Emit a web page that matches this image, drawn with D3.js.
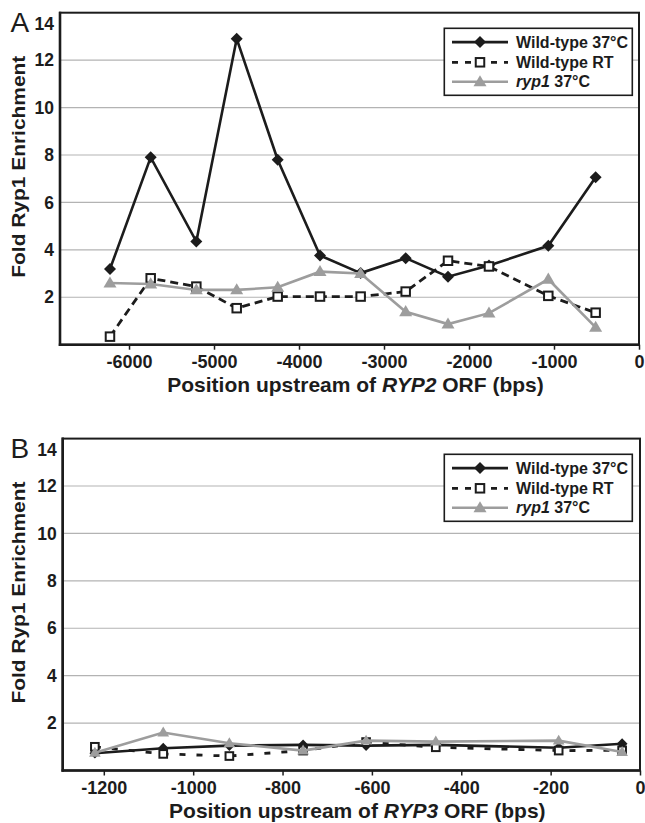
<!DOCTYPE html>
<html>
<head>
<meta charset="utf-8">
<script src="https://cdn.jsdelivr.net/npm/d3@7"></script>
<style>
  html, body { margin: 0; padding: 0; background: #fff; }
  svg { display: block; }
  text { font-family: "Liberation Sans", Arial, Helvetica, sans-serif; }
</style>
</head>
<body>
<script>
// ---------- data ----------
const seriesNames = ["Wild-type 37°C", "Wild-type RT", "ryp1 37°C"];
const yTicks = [2, 4, 6, 8, 10, 12, 14];

// Panel A: RYP2 upstream
const posA = [-6224, -5745, -5208, -4733, -4251, -3753, -3275, -2745, -2247, -1765, -1067, -510];
const wt37A = [3.19, 7.9, 4.35, 12.9, 7.8, 3.76, 3.02, 3.65, 2.87, 3.34, 4.17, 7.06];
const wtRTA = [0.34, 2.8, 2.45, 1.54, 2.03, 2.03, 2.03, 2.24, 3.54, 3.3, 2.06, 1.35];
const ryp1A = [2.6, 2.56, 2.31, 2.31, 2.42, 3.08, 3.0, 1.39, 0.87, 1.33, 2.76, 0.73];
const xTicksA = [-6000, -5000, -4000, -3000, -2000, -1000, 0];

// Panel B: RYP3 upstream
const posB = [-1220, -1067, -919, -754, -613, -457, -182, -40];
const wt37B = [0.73, 0.94, 1.05, 1.08, 1.05, 1.08, 0.96, 1.13];
const wtRTB = [1.0, 0.70, 0.61, 0.84, 1.2, 0.98, 0.84, 0.85];
const ryp1B = [0.75, 1.6, 1.15, 0.84, 1.26, 1.22, 1.26, 0.78];
const xTicksB = [-1200, -1000, -800, -600, -400, -200, 0];

// ---------- layout ----------
const W = 645, H = 823;
const BLACK = "#1c1c1c", GRAY = "#9d9d9d", GRID = "#b3b3b3";

const svg = d3.select("body").append("svg").attr("width", W).attr("height", H);

const panels = [
  { label: "A", gene: "RYP2", top: 12.7, bottom: 344.7, left: 60, right: 639,
    xMin: -6812, xTicks: xTicksA, pos: posA, data: [wt37A, wtRTA, ryp1A],
    dash: "8,5", mk: 1.0 },
  { label: "B", gene: "RYP3", top: 438.6, bottom: 770.5, left: 62.7, right: 640,
    xMin: -1292, xTicks: xTicksB, pos: posB, data: [wt37B, wtRTB, ryp1B],
    dash: "6,11", mk: 0.9 }
];

function diamond(g, cx, cy, r, color) {
  g.append("path")
    .attr("d", `M${cx},${cy - r}L${cx + r},${cy}L${cx},${cy + r}L${cx - r},${cy}Z`)
    .attr("fill", color);
}
function square(g, cx, cy, s) {
  g.append("rect").attr("x", cx - s / 2).attr("y", cy - s / 2)
    .attr("width", s).attr("height", s)
    .attr("fill", "#fff").attr("stroke", BLACK).attr("stroke-width", 2);
}
function triangle(g, cx, cy, w, color) {
  const h = w * 0.85;
  g.append("path")
    .attr("d", `M${cx},${cy - h * 0.6}L${cx + w / 2},${cy + h * 0.4}L${cx - w / 2},${cy + h * 0.4}Z`)
    .attr("fill", color);
}

panels.forEach(p => {
  const x = d3.scaleLinear().domain([p.xMin, 0]).range([p.left, p.right]);
  const y = d3.scaleLinear().domain([0, 14]).range([p.bottom, p.top]);
  const g = svg.append("g");

  // gridlines
  g.append("g").selectAll("line").data(yTicks.filter(d => d < 14)).join("line")
    .attr("x1", p.left).attr("x2", p.right)
    .attr("y1", d => y(d)).attr("y2", d => y(d))
    .attr("stroke", GRID).attr("stroke-width", 1.2);

  // plot border (top / right)
  g.append("rect").attr("x", p.left).attr("y", p.top)
    .attr("width", p.right - p.left).attr("height", p.bottom - p.top)
    .attr("fill", "none").attr("stroke", BLACK).attr("stroke-width", 2);

  // x axis
  const xa = g.append("g").attr("transform", `translate(0,${p.bottom})`)
    .call(d3.axisBottom(x).tickValues(p.xTicks).tickSize(5).tickPadding(6)
      .tickFormat(d => String(d)));
  xa.select(".domain").remove();
  xa.selectAll(".tick line").attr("stroke", BLACK).attr("stroke-width", 1.5);
  xa.selectAll(".tick text").attr("font-size", 18).attr("font-weight", "bold")
    .attr("fill", BLACK).attr("font-family", "Liberation Sans, Arial, sans-serif");

  // y axis
  const ya = g.append("g").attr("transform", `translate(${p.left},0)`)
    .call(d3.axisLeft(y).tickValues(yTicks).tickSize(0).tickPadding(6));
  ya.select(".domain").remove();
  ya.selectAll(".tick text").attr("font-size", 17.5).attr("font-weight", "bold")
    .attr("fill", BLACK).attr("font-family", "Liberation Sans, Arial, sans-serif");
  ya.selectAll(".tick").filter(d => d === 14).select("text").attr("dy", "0.95em");

  // thick left / bottom axis lines
  g.append("line").attr("x1", p.left).attr("x2", p.left).attr("y1", p.top - 1).attr("y2", p.bottom + 1.2)
    .attr("stroke", BLACK).attr("stroke-width", 2.6);
  g.append("line").attr("x1", p.left - 1.2).attr("x2", p.right + 1).attr("y1", p.bottom).attr("y2", p.bottom)
    .attr("stroke", BLACK).attr("stroke-width", 2.6);

  // series
  const line = d3.line().x((d, i) => x(p.pos[i])).y(d => y(d));
  const styles = [
    { stroke: BLACK, dash: null },
    { stroke: BLACK, dash: p.dash },
    { stroke: GRAY, dash: null }
  ];
  p.data.forEach((vals, si) => {
    const sg = g.append("g");
    sg.append("path").datum(vals).attr("d", line)
      .attr("fill", "none").attr("stroke", styles[si].stroke)
      .attr("stroke-width", si === 1 ? 2.8 : 2.6)
      .attr("stroke-dasharray", styles[si].dash)
      .attr("stroke-linejoin", "miter");
    vals.forEach((v, i) => {
      const cx = x(p.pos[i]), cy = y(v);
      if (si === 0) diamond(sg, cx, cy, 6 * p.mk, BLACK);
      else if (si === 1) square(sg, cx, cy, 8.5 * p.mk);
      else triangle(sg, cx, cy, 13 * p.mk, GRAY);
    });
  });

  // panel label
  g.append("text").attr("x", 10.5).attr("y", p.top + 19.5)
    .attr("font-size", 28).attr("fill", BLACK).text(p.label);

  // y title
  g.append("text")
    .attr("transform", `translate(25,${p.top + 154}) rotate(-90)`)
    .attr("text-anchor", "middle").attr("font-size", 19).attr("font-weight", "bold")
    .attr("fill", BLACK).attr("textLength", 222).attr("lengthAdjust", "spacingAndGlyphs")
    .text("Fold Ryp1 Enrichment");

  // x title
  const xt = g.append("text").attr("x", (p.left + p.right) / 2 + 6).attr("y", p.bottom + 47.5)
    .attr("text-anchor", "middle").attr("font-size", 21).attr("font-weight", "bold")
    .attr("fill", BLACK);
  xt.append("tspan").text("Position upstream of ");
  xt.append("tspan").attr("font-style", "italic").text(p.gene);
  xt.append("tspan").text(" ORF (bps)");

  // legend
  const lx0 = 444.3, lx1 = 632.3;
  const lt = p.label === "A" ? 28.3 : 454.3;
  const lg = g.append("g");
  lg.append("rect").attr("x", lx0).attr("y", lt).attr("width", lx1 - lx0).attr("height", 67)
    .attr("fill", "#fff").attr("stroke", BLACK).attr("stroke-width", 1.6);
  const rows = [13.8, 34, 53.5];
  seriesNames.forEach((name, si) => {
    const ry = lt + rows[si];
    lg.append("line").attr("x1", 452).attr("x2", 508).attr("y1", ry).attr("y2", ry)
      .attr("stroke", styles[si].stroke).attr("stroke-width", si === 1 ? 2.8 : 2.6)
      .attr("stroke-dasharray", si === 1 ? "6,7" : null);
    if (si === 0) diamond(lg, 480, ry, 6, BLACK);
    else if (si === 1) square(lg, 480, ry, 8.5);
    else triangle(lg, 480, ry, 13, GRAY);
    const t = lg.append("text").attr("x", 516).attr("y", ry + 5.5)
      .attr("font-size", 16).attr("font-weight", "bold").attr("fill", BLACK);
    if (si === 2) {
      t.append("tspan").attr("font-style", "italic").text("ryp1");
      t.append("tspan").text(" 37°C");
    } else {
      t.text(name);
    }
  });
});
</script>
</body>
</html>
